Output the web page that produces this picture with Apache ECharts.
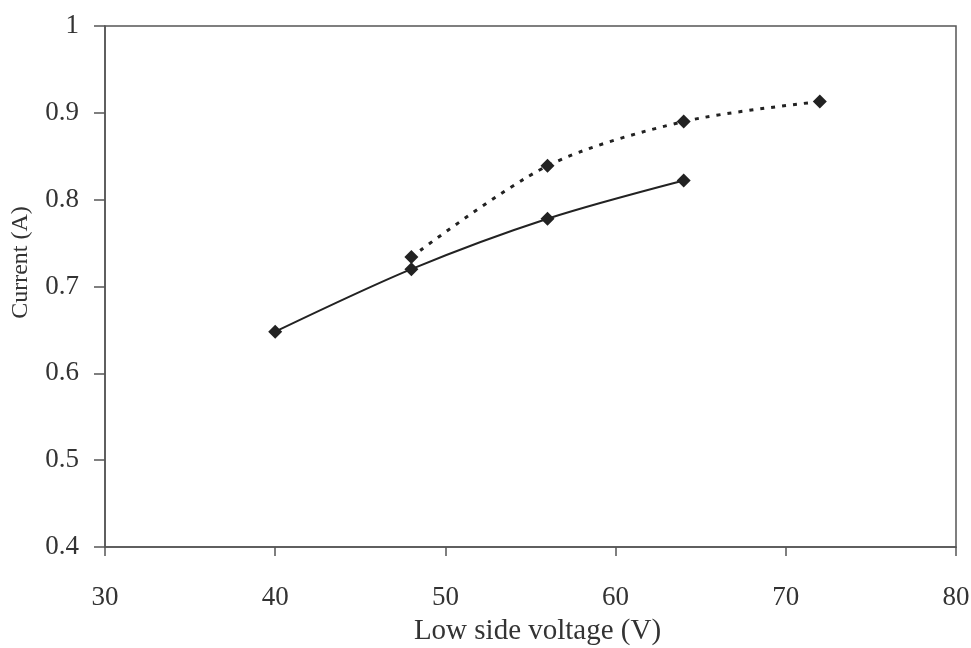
<!DOCTYPE html>
<html>
<head>
<meta charset="utf-8">
<script src="https://cdn.jsdelivr.net/npm/echarts@6/dist/echarts.min.js"></script>
<style>
    html, body { margin: 0; padding: 0; background: #fff; }
    #main { width: 971px; height: 648px; }
</style>
</head>
<body>
<div id="main"></div>
<script type="text/javascript">
// readings
var solidVoltage = [40, 48, 56, 64];
var solidCurrent = [0.648, 0.72, 0.778, 0.822];
var dottedVoltage = [48, 56, 64, 72];
var dottedCurrent = [0.734, 0.839, 0.89, 0.913];

function pairs(xs, ys) {
    var out = [];
    for (var i = 0; i < xs.length; i++) out.push([xs[i], ys[i]]);
    return out;
}

var myChart = echarts.init(document.getElementById('main'));
var font = '"Liberation Serif", "DejaVu Serif", serif';
var option = {
    backgroundColor: '#fff',
    animation: false,
    grid: {
        left: 105,
        right: 15,
        top: 26,
        bottom: 101,
        outerBoundsMode: 'none',
        containLabel: false,
        show: true,
        borderColor: '#555',
        borderWidth: 1.5
    },
    xAxis: {
        type: 'value',
        min: 30,
        max: 80,
        interval: 10,
        name: 'Low side voltage (V)',
        nameLocation: 'middle',
        nameGap: 70,
        nameTextStyle: { fontFamily: font, fontSize: 29, color: '#333', padding: [0, 0, 0, 14] },
        axisLine: { lineStyle: { color: '#555', width: 1.5 } },
        axisTick: { inside: false, length: 9, lineStyle: { color: '#555', width: 1.5 } },
        axisLabel: { margin: 37, fontFamily: font, fontSize: 27, color: '#333' },
        splitLine: { show: false }
    },
    yAxis: {
        type: 'value',
        min: 0.4,
        max: 1,
        interval: 0.1,
        name: 'Current (A)',
        nameLocation: 'middle',
        nameGap: 72,
        nameTextStyle: { fontFamily: font, fontSize: 24, color: '#333', padding: [0, 0, 0, 48] },
        axisLine: { lineStyle: { color: '#555', width: 1.5 } },
        axisTick: { inside: false, length: 11, lineStyle: { color: '#555', width: 1.5 } },
        axisLabel: { margin: 26, fontFamily: font, fontSize: 27, color: '#333' },
        splitLine: { show: false }
    },
    series: [{
        name: 'solid',
        type: 'line',
        smooth: 0.3,
        symbol: 'diamond',
        symbolSize: 14,
        itemStyle: { color: '#222' },
        lineStyle: { color: '#222', width: 2 },
        data: pairs(solidVoltage, solidCurrent)
    }, {
        name: 'dotted',
        type: 'line',
        smooth: 0.3,
        symbol: 'diamond',
        symbolSize: 14,
        itemStyle: { color: '#222' },
        lineStyle: { color: '#222', width: 3, type: [4, 7] },
        data: pairs(dottedVoltage, dottedCurrent)
    }]
};
myChart.setOption(option);
</script>
</body>
</html>
